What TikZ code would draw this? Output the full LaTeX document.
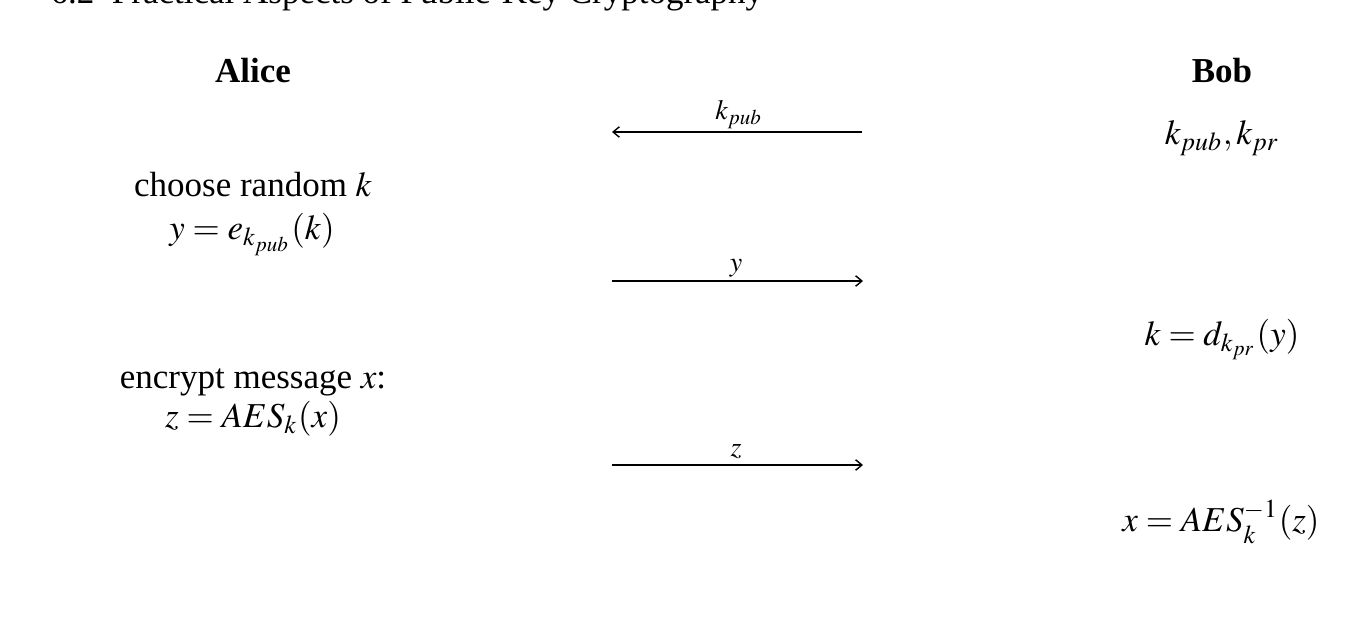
\documentclass[tikz,border=0pt]{standalone}
\usepackage{mathptmx}
\usepackage[no-math]{fontspec}
\setmainfont{Liberation Serif}
\usetikzlibrary{arrows.meta}
\tikzset{
  txt/.style={inner sep=0pt, anchor=base, font=\fontsize{10}{12}\selectfont},
  lbl/.style={inner sep=0pt, anchor=base, font=\fontsize{8}{9.6}\selectfont},
  msg/.style={line width=0.4pt, -{Straight Barb[length=1.8pt,width=3pt]}},
}
\begin{document}
\begin{tikzpicture}[x=0.2857pt,y=-0.2857pt]
\useasboundingbox (0,0) rectangle (1369,617);
\node[txt, anchor=base west] (hdr) at (50,4) {6.2\hspace{0.5em}Practical Aspects of Public-Key Cryptography};
\node[txt] (alice) at (253,83) {\textbf{Alice}};
\node[txt] (bob) at (1222,83) {\textbf{Bob}};
\node[txt] (bkeys) at (1222,145) {$k_{pub},k_{pr}$};
\node[txt] (a1) at (253,197) {choose random $k$};
\node[txt] (a2) at (252,240) {$y=e_{k_{pub}}(k)$};
\node[txt] (b1) at (1222,346) {$k=d_{k_{pr}}(y)$};
\node[txt] (a3) at (253,389) {encrypt message $x$:};
\node[txt] (a4) at (253,428) {$z=AES_k(x)$};
\node[txt] (b2) at (1221,532) {$x=AES_k^{-1}(z)$};
\coordinate (r1) at (862,132); \coordinate (l1) at (612,132);
\coordinate (l2) at (612,281); \coordinate (r2) at (863,281);
\coordinate (l3) at (612,465); \coordinate (r3) at (863,465);
\draw[msg] (r1) -- (l1);
\draw[msg] (l2) -- (r2);
\draw[msg] (l3) -- (r3);
\node[lbl] (m1) at (739,120) {$k_{pub}$};
\node[lbl] (m2) at (736,272) {$y$};
\node[lbl] (m3) at (736,457) {$z$};
\end{tikzpicture}
\end{document}
